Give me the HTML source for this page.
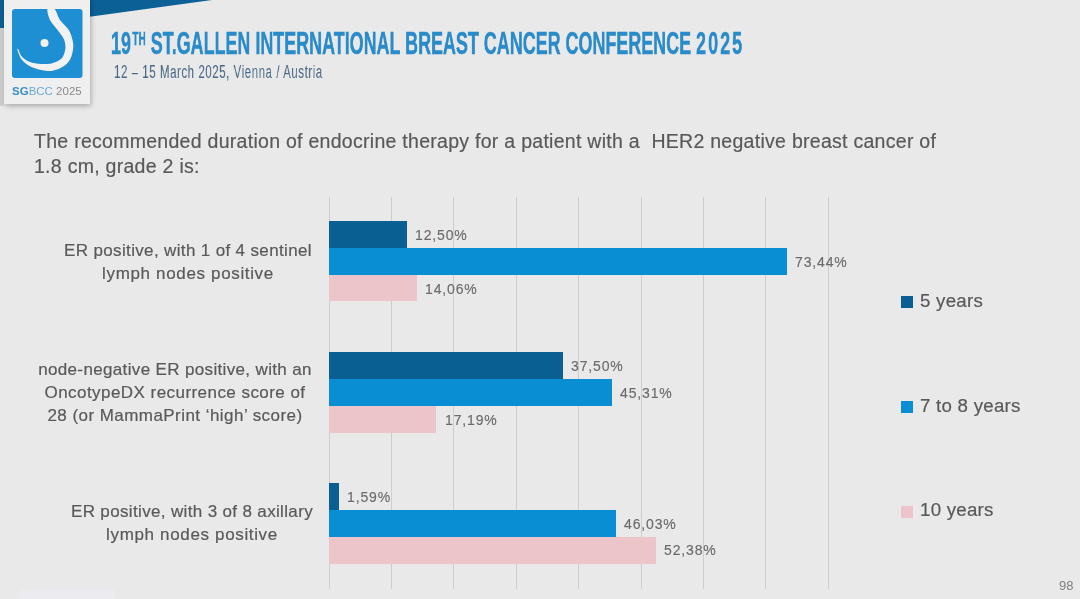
<!DOCTYPE html>
<html><head><meta charset="utf-8">
<style>
html,body{margin:0;padding:0;}
body{width:1080px;height:599px;overflow:hidden;background:#e9e9e9;position:relative;font-family:"Liberation Sans",sans-serif;}
.a{position:absolute;white-space:nowrap;will-change:transform;}
.q{-webkit-text-stroke:0.2px #595959;color:#595959;font-size:19.5px;line-height:19.5px;letter-spacing:0.28px;}
.cl{-webkit-text-stroke:0.2px #595959;color:#595959;font-size:17px;line-height:17px;text-align:center;letter-spacing:0.35px;}
.dl{-webkit-text-stroke:0.15px #6b6b6b;color:#6b6b6b;font-size:14px;line-height:14px;letter-spacing:0.85px;}
.lg{-webkit-text-stroke:0.2px #595959;color:#595959;font-size:18.7px;line-height:18.7px;letter-spacing:0.25px;}
.sw{position:absolute;width:12px;height:12px;}
.g{position:absolute;top:197px;height:392px;width:1px;background:#cdcdcd;}
.bar{position:absolute;left:329px;height:26.7px;}
.c1{background:#0a5f92;}
.c2{background:#0a8ed3;}
.c3{background:#ebc5c9;}
</style></head><body>
<!-- top band -->
<svg class="a" style="left:0;top:0" width="1080" height="40"><polygon points="0,0 212,0 0,29" fill="#0b6096"/></svg>
<!-- logo card -->
<div class="a" style="left:0;top:28px;width:4px;height:78px;background:linear-gradient(to right,#cbcbcb,#d6d6d6);"></div>
<div class="a" style="left:4px;top:-2px;width:86px;height:106px;background:#efefef;box-shadow:1px 2px 5px rgba(0,0,0,0.28);"></div>
<svg class="a" style="left:0;top:0" width="100" height="110">
<defs><clipPath id="cp"><rect x="12" y="9" width="70.5" height="69" rx="3"/></clipPath></defs><rect x="12" y="9" width="70.5" height="69" rx="3" fill="#1e8fd2"/>
<path d="M54.5,9.0 C56.6,10.8 57.6,16.5 60.0,20.0 C62.4,23.5 66.7,26.7 68.8,30.0 C70.8,33.3 71.8,37.0 72.5,40.0 C73.2,43.0 73.5,45.0 73.2,48.0 C72.9,51.0 72.1,55.2 70.8,58.0 C69.5,60.8 67.8,63.1 65.5,65.0 C63.2,66.9 60.0,68.5 57.0,69.5 C54.0,70.5 51.7,71.4 47.5,71.0 C43.3,70.6 36.2,69.1 32.0,67.3 C27.8,65.5 24.4,62.9 22.0,60.0 C19.6,57.1 18.1,51.8 17.5,50.0 C16.9,48.2 17.8,48.4 18.5,49.5 C19.2,50.6 19.8,54.5 22.0,56.7 C24.2,58.9 27.8,61.5 32.0,62.7 C36.2,63.9 43.3,64.2 47.5,64.0 C51.7,63.8 54.5,62.7 57.0,61.5 C59.5,60.3 61.3,59.2 62.7,57.0 C64.1,54.8 65.2,51.0 65.4,48.0 C65.6,45.0 65.1,42.0 63.8,39.0 C62.4,36.0 59.8,33.2 57.5,30.0 C55.2,26.8 51.7,23.5 50.0,20.0 C48.3,16.5 46.8,10.8 47.5,9.0 C48.2,7.2 52.4,7.2 54.5,9.0Z" fill="#f2f2f2" clip-path="url(#cp)"/>
<circle cx="44.5" cy="43" r="4" fill="#f2f2f2"/>
</svg>
<div class="a" style="left:12px;top:85px;font-size:11.5px;line-height:12px;"><span style="color:#3a8fc4;font-weight:bold">SG</span><span style="color:#6aa9d6">BCC</span><span style="color:#8a8a8a"> 2025</span></div>

<!-- title -->
<div class="a" id="title" style="left:111px;top:28px;font-size:31.4px;line-height:32px;font-weight:bold;color:#2a8bc9;-webkit-text-stroke:0.5px #2a8bc9;transform-origin:0 0;transform:scaleX(0.5713);">19<span style="font-size:17.5px;position:relative;top:-9.3px;margin-left:2.6px">TH</span> ST.GALLEN INTERNATIONAL BREAST CANCER CONFERENCE <span style="letter-spacing:3.6px">2025</span></div>
<div class="a" id="sub" style="left:114px;top:63px;font-size:18px;line-height:18px;color:#4b6984;letter-spacing:0.9px;transform-origin:0 0;transform:scaleX(0.636);">12 – 15 March 2025, Vienna / Austria</div>

<!-- question -->
<div class="a q" id="q1" style="left:34px;top:132px;">The recommended duration of endocrine therapy for a patient with a&nbsp; HER2 negative breast cancer of</div>
<div class="a q" id="q2" style="left:34px;top:157px;">1.8 cm, grade 2 is:</div>

<!-- gridlines -->
<div class="g" style="left:328.6px"></div>
<div class="g" style="left:391.0px"></div>
<div class="g" style="left:453.4px"></div>
<div class="g" style="left:515.8px"></div>
<div class="g" style="left:578.2px"></div>
<div class="g" style="left:640.6px"></div>
<div class="g" style="left:703.0px"></div>
<div class="g" style="left:765.4px"></div>
<div class="g" style="left:827.8px"></div>

<!-- bars -->
<div class="bar c1" style="top:221.3px;width:78px"></div>
<div class="bar c2" style="top:248px;width:458.3px"></div>
<div class="bar c3" style="top:274.7px;width:87.7px"></div>

<div class="bar c1" style="top:352.3px;width:234px"></div>
<div class="bar c2" style="top:379px;width:282.7px"></div>
<div class="bar c3" style="top:405.7px;width:107.3px;height:27px"></div>

<div class="bar c1" style="top:483.3px;width:9.9px"></div>
<div class="bar c2" style="top:510px;width:287.2px"></div>
<div class="bar c3" style="top:536.7px;width:326.9px;height:27.5px"></div>

<!-- data labels -->
<div class="a dl" style="left:415px;top:228.3px">12,50%</div>
<div class="a dl" style="left:795px;top:255.3px">73,44%</div>
<div class="a dl" style="left:425px;top:282.3px">14,06%</div>
<div class="a dl" style="left:571px;top:359.3px">37,50%</div>
<div class="a dl" style="left:620px;top:386.3px">45,31%</div>
<div class="a dl" style="left:445px;top:413.3px">17,19%</div>
<div class="a dl" style="left:347px;top:490.3px">1,59%</div>
<div class="a dl" style="left:624px;top:517.3px">46,03%</div>
<div class="a dl" style="left:664px;top:543.3px">52,38%</div>

<!-- category labels -->
<div class="a cl" style="left:60px;top:240px;width:256px;line-height:22.7px">ER positive, with 1 of 4 sentinel<br><span style="letter-spacing:0.65px">lymph nodes positive</span></div>
<div class="a cl" style="left:34px;top:358.5px;width:282px;line-height:22.8px">node-negative ER positive, with an<br><span style="letter-spacing:0.45px">OncotypeDX recurrence score of</span><br><span style="letter-spacing:0.45px">28 (or MammaPrint ‘high’ score)</span></div>
<div class="a cl" style="left:68px;top:501px;width:248px;line-height:22.5px">ER positive, with 3 of 8 axillary<br><span style="letter-spacing:0.65px">lymph nodes positive</span></div>

<!-- legend -->
<div class="sw c1" style="left:901px;top:296px"></div>
<div class="a lg" style="left:920px;top:292px">5 years</div>
<div class="sw c2" style="left:901px;top:401px"></div>
<div class="a lg" style="left:920px;top:397px">7 to 8 years</div>
<div class="sw c3" style="left:901px;top:505.5px"></div>
<div class="a lg" style="left:920px;top:501px">10 years</div>

<div class="a" style="left:1059px;top:579px;font-size:13px;line-height:13px;color:#7f7f7f">98</div>
<div class="a" style="left:20px;top:590px;width:95px;height:9px;background:#ececf0"></div>
</body></html>
